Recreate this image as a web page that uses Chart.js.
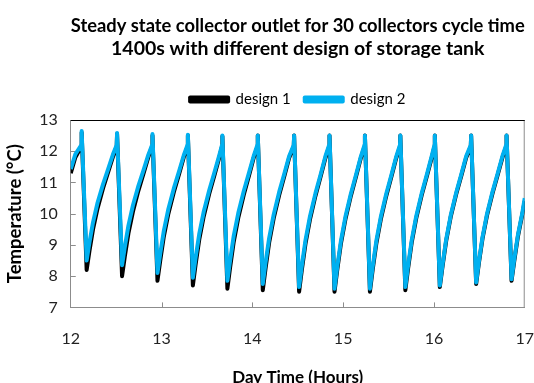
<!DOCTYPE html>
<html>
<head>
<meta charset="utf-8">
<script src="https://cdn.jsdelivr.net/npm/chart.js@4.4.0/dist/chart.umd.min.js"></script>
<style>
  html, body { margin: 0; padding: 0; background: #fff; overflow: hidden; }
</style>
</head>
<body>
<canvas id="tempChart" width="534" height="392"></canvas>
<script>
// Day time in hours (shared by both series)
const times = [
  12.0, 12.05, 12.116, 12.12,
  12.175, 12.205, 12.245, 12.295, 12.355, 12.415, 12.465, 12.506, 12.51,
  12.565, 12.595, 12.635, 12.685, 12.745, 12.805, 12.855, 12.896, 12.90,
  12.955, 12.985, 13.025, 13.075, 13.135, 13.195, 13.245, 13.286, 13.29,
  13.345, 13.375, 13.415, 13.465, 13.525, 13.585, 13.635, 13.666, 13.67,
  13.725, 13.755, 13.795, 13.845, 13.905, 13.965, 14.015, 14.056, 14.06,
  14.115, 14.145, 14.185, 14.235, 14.295, 14.355, 14.405, 14.456, 14.46,
  14.515, 14.545, 14.585, 14.635, 14.695, 14.755, 14.805, 14.846, 14.85,
  14.905, 14.935, 14.975, 15.025, 15.085, 15.145, 15.195, 15.236, 15.24,
  15.295, 15.325, 15.365, 15.415, 15.475, 15.535, 15.585, 15.626, 15.63,
  15.685, 15.715, 15.755, 15.805, 15.865, 15.925, 15.975, 16.006, 16.01,
  16.065, 16.095, 16.135, 16.185, 16.245, 16.305, 16.355, 16.406, 16.41,
  16.465, 16.495, 16.535, 16.585, 16.645, 16.705, 16.755, 16.796, 16.80,
  16.855, 16.885, 16.925, 16.975, 17.0
];

// Collector outlet temperature (°C), design 1
const design1 = [
  11.3, 11.8, 12.15, 12.6,
  8.2, 8.79, 9.5, 10.17, 10.81, 11.36, 11.83, 12.15, 12.55,
  8.0, 8.62, 9.37, 10.07, 10.74, 11.32, 11.82, 12.15, 12.5,
  7.85, 8.49, 9.27, 10.0, 10.69, 11.29, 11.81, 12.15, 12.5,
  7.7, 8.37, 9.17, 9.92, 10.64, 11.26, 11.79, 12.15, 12.48,
  7.6, 8.28, 9.1, 9.87, 10.6, 11.24, 11.79, 12.15, 12.5,
  7.55, 8.24, 9.07, 9.85, 10.59, 11.23, 11.78, 12.15, 12.5,
  7.5, 8.2, 9.03, 9.82, 10.57, 11.22, 11.78, 12.15, 12.5,
  7.5, 8.2, 9.03, 9.82, 10.57, 11.22, 11.78, 12.15, 12.5,
  7.5, 8.2, 9.03, 9.82, 10.57, 11.22, 11.78, 12.15, 12.5,
  7.55, 8.24, 9.07, 9.85, 10.59, 11.23, 11.78, 12.15, 12.5,
  7.65, 8.32, 9.13, 9.9, 10.62, 11.25, 11.79, 12.15, 12.5,
  7.75, 8.41, 9.2, 9.95, 10.65, 11.27, 11.8, 12.15, 12.5,
  7.85, 8.49, 9.27, 10.0, 10.4
];

// Collector outlet temperature (°C), design 2
const design2 = [
  11.43, 11.9, 12.2, 12.65,
  8.5, 9.06, 9.72, 10.35, 10.94, 11.46, 11.9, 12.2, 12.58,
  8.35, 8.93, 9.62, 10.27, 10.89, 11.43, 11.89, 12.2, 12.55,
  8.1, 8.71, 9.45, 10.15, 10.81, 11.38, 11.87, 12.2, 12.53,
  7.95, 8.59, 9.35, 10.07, 10.75, 11.35, 11.86, 12.2, 12.5,
  7.85, 8.5, 9.29, 10.02, 10.72, 11.33, 11.85, 12.2, 12.5,
  7.75, 8.42, 9.22, 9.97, 10.69, 11.31, 11.84, 12.2, 12.5,
  7.65, 8.33, 9.15, 9.92, 10.65, 11.29, 11.84, 12.2, 12.5,
  7.6, 8.29, 9.12, 9.9, 10.64, 11.28, 11.83, 12.2, 12.5,
  7.6, 8.29, 9.12, 9.9, 10.64, 11.28, 11.83, 12.2, 12.5,
  7.65, 8.33, 9.15, 9.92, 10.65, 11.29, 11.84, 12.2, 12.5,
  7.7, 8.37, 9.18, 9.95, 10.67, 11.3, 11.84, 12.2, 12.5,
  7.8, 8.46, 9.25, 10.0, 10.7, 11.32, 11.85, 12.2, 12.5,
  7.9, 8.55, 9.32, 10.05, 10.5
];

const xTicks = [12, 13, 14, 15, 16, 17];
const yTicks = [7, 8, 9, 10, 11, 12, 13];

const FONT = "Lato, 'Open Sans', sans-serif";
const AXIS_GREY = '#8c8c8c';

// inner tick marks, top / right frame lines, a little space under the legend
const framePlugin = {
  id: 'frame',
  beforeLayout(chart) {
    const legend = chart.legend;
    if (legend && !legend._extraSpace) {
      const fit = legend.fit;
      legend.fit = function () { fit.call(this); this.height += 3; };
      legend._extraSpace = true;
    }
  },
  beforeDatasetsDraw(chart) {
    const { ctx, chartArea: a, scales: { x, y } } = chart;
    ctx.save();
    ctx.strokeStyle = AXIS_GREY;
    ctx.lineWidth = 1;
    ctx.beginPath();
    xTicks.slice(1, -1).forEach(v => {
      const px = Math.round(x.getPixelForValue(v)) + 0.5;
      ctx.moveTo(px, a.bottom);
      ctx.lineTo(px, a.bottom - 5);
    });
    yTicks.slice(1, -1).forEach(v => {
      const py = Math.round(y.getPixelForValue(v)) + 0.5;
      ctx.moveTo(a.left, py);
      ctx.lineTo(a.left + 5, py);
    });
    ctx.moveTo(a.right - 0.5, a.top);
    ctx.lineTo(a.right - 0.5, a.bottom);
    ctx.stroke();
    ctx.strokeStyle = '#000';
    ctx.beginPath();
    ctx.moveTo(a.left, a.top + 0.5);
    ctx.lineTo(a.right, a.top + 0.5);
    ctx.stroke();
    ctx.restore();
  }
};

const ctx = document.getElementById('tempChart').getContext('2d');
const tempChart = new Chart(ctx, {
  type: 'line',
  data: {
    datasets: [{
      label: 'design 1',
      data: times.map((t, i) => ({ x: t, y: design1[i] })),
      borderColor: '#000000',
      backgroundColor: '#000000',
      borderWidth: 4,
      order: 1
    }, {
      label: 'design 2',
      data: times.map((t, i) => ({ x: t, y: design2[i] })),
      borderColor: '#00b0f0',
      backgroundColor: '#00b0f0',
      borderWidth: 4,
      order: 0
    }]
  },
  options: {
    responsive: false,
    animation: false,
    tension: 0,
    borderJoinStyle: 'round',
    elements: { point: { radius: 0 } },
    layout: { padding: { left: 0, right: 2, top: 0, bottom: 0 } },
    plugins: {
      tooltip: { enabled: false },
      title: {
        display: true,
        fullSize: false,
        text: ['Steady state collector outlet for 30 collectors cycle time',
               '1400s with different design of storage tank'],
        color: '#000',
        font: { family: FONT, size: 19.5, weight: 'bold', lineHeight: '23px' },
        padding: { top: 14, bottom: 18 }
      },
      legend: {
        display: true,
        fullSize: false,
        labels: {
          color: '#000',
          font: { family: FONT, size: 15 },
          boxWidth: 38,
          boxHeight: 4,
          padding: 14,
          sort: (a, b) => a.datasetIndex - b.datasetIndex
        }
      }
    },
    scales: {
      x: {
        type: 'linear',
        min: 12,
        max: 17,
        grid: { drawOnChartArea: false, drawTicks: true, tickLength: 22, tickColor: 'rgba(0,0,0,0)' },
        border: { color: AXIS_GREY },
        ticks: {
          stepSize: 1,
          padding: 0,
          color: '#222',
          font: { family: FONT, size: 16 }
        },
        title: {
          display: true,
          text: 'Day Time (Hours)',
          color: '#000',
          font: { family: FONT, size: 17, weight: 'bold' },
          padding: { top: 19, bottom: 4 }
        }
      },
      y: {
        min: 7,
        max: 13,
        grid: { drawOnChartArea: false, drawTicks: false },
        border: { color: AXIS_GREY },
        ticks: {
          stepSize: 1,
          padding: 13,
          color: '#222',
          font: { family: FONT, size: 16 }
        },
        title: {
          display: true,
          text: 'Temperature (°C)',
          color: '#000',
          font: { family: FONT, size: 18.5, weight: 'bold' },
          padding: { top: 4, bottom: 0 }
        }
      }
    }
  },
  plugins: [framePlugin]
});
</script>
</body>
</html>
